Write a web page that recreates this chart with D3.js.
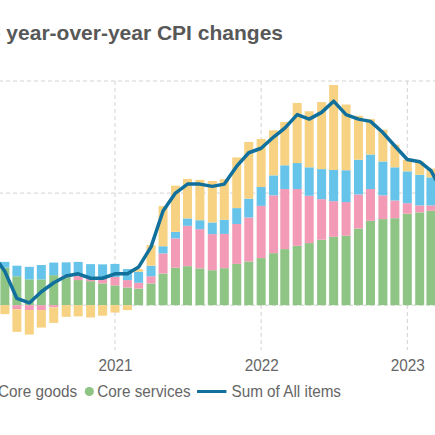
<!DOCTYPE html>
<html><head><meta charset="utf-8">
<script src="https://cdn.jsdelivr.net/npm/d3@7"></script>
<style>html,body{margin:0;padding:0;background:#fff;overflow:hidden}</style>
</head><body>
<svg id="c" width="435" height="435"></svg>
<script>
// Months (year-over-year change reported for each month)
const months = ["2020-02","2020-03","2020-04","2020-05","2020-06","2020-07","2020-08","2020-09","2020-10","2020-11","2020-12",
  "2021-01","2021-02","2021-03","2021-04","2021-05","2021-06","2021-07","2021-08","2021-09","2021-10","2021-11","2021-12",
  "2022-01","2022-02","2022-03","2022-04","2022-05","2022-06","2022-07","2022-08","2022-09","2022-10","2022-11","2022-12",
  "2023-01","2023-02","2023-03"];
// Sum of All items (line)
const allItems = [2.3,1.5,0.3,0.1,0.6,1.0,1.3,1.4,1.2,1.2,1.4,
  1.4,1.7,2.6,4.2,5.0,5.4,5.4,5.3,5.4,6.2,6.8,7.0,
  7.5,7.9,8.5,8.3,8.6,9.1,8.5,8.3,8.2,7.7,7.1,6.5,
  6.4,6.0,5.0];
// Contributions (percentage points); null = outside the visible area
const energy = [null,-0.40,-1.01,-1.09,-0.78,-0.69,-0.52,-0.50,-0.55,-0.47,-0.33,
  -0.22,0.12,0.92,1.79,2.06,1.76,1.80,1.85,1.81,2.26,2.53,2.14,
  2.01,1.93,2.68,2.50,2.99,3.79,2.93,1.96,1.58,1.42,1.01,0.52,
  0.59,0.39,null];
const food = [null,0.25,0.47,0.56,0.64,0.56,0.58,0.62,0.56,0.63,0.58,
  0.49,0.49,0.47,0.32,0.29,0.33,0.40,0.52,0.63,0.71,0.84,0.84,
  0.89,1.06,1.16,1.27,1.34,1.39,1.42,1.55,1.54,1.51,1.48,1.42,
  1.37,1.25,null];
const coreGoods = [null,0.00,-0.18,-0.22,-0.22,-0.10,0.08,0.19,0.20,0.22,0.38,
  0.33,0.26,0.32,0.90,1.31,1.80,1.75,1.61,1.53,1.78,1.96,2.33,
  2.58,2.68,2.53,2.11,1.81,1.59,1.50,1.52,1.42,1.06,0.79,0.47,
  0.31,0.24,null];
const coreServices = [null,1.68,1.29,1.15,1.15,1.34,1.25,1.12,1.07,0.97,0.88,
  0.79,0.74,0.97,1.41,1.67,1.74,1.64,1.56,1.65,1.84,1.95,2.10,
  2.32,2.50,2.65,2.77,2.92,3.05,3.10,3.42,3.76,3.84,3.88,4.08,
  4.14,4.21,null];
const yearTicks = ["2021-01","2022-01","2023-01"];
const yTicks = [0,5,10];
const seriesNames = ["Energy","Food","Core goods","Core services"];
const lineName = "Sum of All items";
const titleText = "Contributions to year-over-year CPI changes";

const colors = {"Energy":"#f8d283","Food":"#66c3ea","Core goods":"#f39bb6","Core services":"#8ec585"};
const lineColor = "#11709c";
const font = "'Liberation Sans', Arial, Helvetica, sans-serif";
const sx = 0.9; // horizontal squeeze of small texts

const svg = d3.select("#c");
const parse = d3.utcParse("%Y-%m");
// each month's value is placed at the end of that month
const endOf = m => d3.utcMonth.offset(parse(m), 1);

const x = d3.scaleUtc().domain([parse("2021-01"), parse("2023-01")]).range([115, 407.3]);
const y = d3.scaleLinear().domain([-2, 10]).range([350, 81]);

// Title
svg.append("text").attr("x", 283).attr("y", 39.5).attr("text-anchor", "end")
  .attr("font-family", font).attr("font-size", 21).attr("font-weight", "bold")
  .attr("fill", "#585858").text(titleText);

// Grid
const grid = svg.append("g");
grid.selectAll("line.h").data(yTicks).join("line").attr("class","h")
  .attr("x1", -50).attr("x2", 500).attr("y1", d => y(d)).attr("y2", d => y(d))
  .attr("stroke", "#d3d3d3").attr("stroke-dasharray", "4,3");
grid.selectAll("line.v").data(yearTicks).join("line").attr("class","v")
  .attr("x1", d => x(parse(d))).attr("x2", d => x(parse(d)))
  .attr("y1", y(10)).attr("y2", y(-2))
  .attr("stroke", "#d3d3d3").attr("stroke-dasharray", "4,3");

// Stacked bars
const rows = months.map((m, i) => ({
  date: endOf(m),
  "Core services": coreServices[i] || 0,
  "Core goods": coreGoods[i] || 0,
  "Food": food[i] || 0,
  "Energy": energy[i] || 0
}));
const stack = d3.stack().keys(["Core services","Core goods","Food","Energy"])
  .offset(d3.stackOffsetDiverging);
const stacked = stack(rows);
const barW = 9;
svg.append("g").selectAll("g").data(stacked).join("g")
  .attr("fill", s => colors[s.key])
  .selectAll("rect").data(s => s).join("rect")
  .attr("x", d => x(d.data.date) - barW / 2)
  .attr("width", barW)
  .attr("y", d => y(Math.max(d[0], d[1])))
  .attr("height", d => Math.abs(y(d[0]) - y(d[1])));

// Line
const line = d3.line().x((d, i) => x(endOf(months[i]))).y(d => y(d));
svg.append("path").datum(allItems).attr("d", line)
  .attr("fill", "none").attr("stroke", lineColor).attr("stroke-width", 3.5)
  .attr("stroke-linejoin", "round").attr("stroke-linecap", "round");

// X axis labels
const xAxis = d3.axisBottom(x).tickValues(yearTicks.map(parse)).tickFormat(d3.utcFormat("%Y")).tickSize(0);
const ax = svg.append("g").attr("transform", `translate(0,${y(-2)})`).call(xAxis);
ax.select(".domain").remove();
ax.selectAll("text").attr("font-family", font).attr("font-size", 17).attr("fill", "#666")
  .attr("dy", null).attr("y", 21.5).attr("transform", `scale(${sx},1)`);

// Legend
const lg = svg.append("g").attr("font-family", font).attr("font-size", 17).attr("fill", "#666");
const legendY = 396.5;
let cx = 0;
const anchors = {};
function legendText(xp, label) {
  const t = lg.append("text").attr("transform", `translate(${xp},${legendY}) scale(${sx},1)`).text(label);
  return t.node().getComputedTextLength() * sx;
}
seriesNames.forEach(name => {
  lg.append("circle").attr("cx", cx + 4.5).attr("cy", legendY - 5).attr("r", 4.6).attr("fill", colors[name]);
  anchors[name] = cx + 12.5;
  const w = legendText(cx + 12.5, name);
  cx = cx + 12.5 + w + 7.7;
});
cx -= 1.4;
lg.append("line").attr("x1", cx).attr("x2", cx + 29.4).attr("y1", legendY - 5).attr("y2", legendY - 5)
  .attr("stroke", lineColor).attr("stroke-width", 3);
legendText(cx + 34.4, lineName);
lg.attr("transform", `translate(${97.3 - anchors["Core services"]},0)`);
</script>
</body></html>
